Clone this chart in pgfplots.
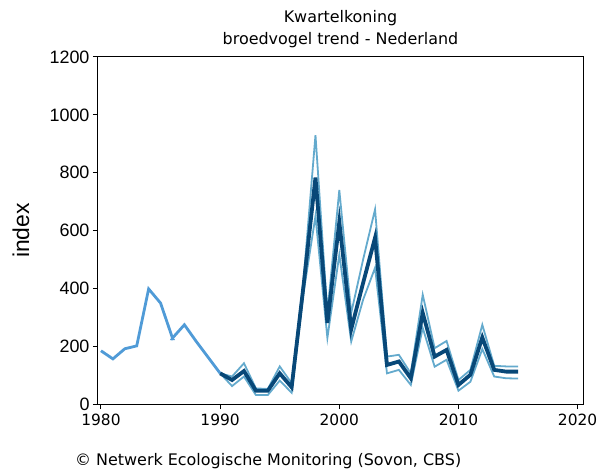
\documentclass[border=0pt]{standalone}
\usepackage{pgfplots}
\pgfplotsset{compat=1.18}
\usepackage{fontspec}
\setmainfont{DejaVu Sans}
\newfontfamily\arialf{Liberation Sans}
\definecolor{early}{RGB}{80,155,215}
\definecolor{dark}{RGB}{8,72,120}
\definecolor{bound}{RGB}{100,170,205}
\begin{document}
\begin{tikzpicture}
\useasboundingbox (-98bp,-69bp) rectangle (500bp,404bp);
\begin{axis}[
  at={(0,0)}, anchor=south west,
  scale only axis, width=485bp, height=347bp,
  xmin=1979.75, xmax=2020.45, ymin=0, ymax=1200,
  xtick={1980,1990,...,2020}, ytick={0,200,...,1200},
  tick align=outside, major tick length=5bp,
  xtick pos=bottom, ytick pos=left,
  axis line style={line width=1bp},
  tick style={line width=1bp, black},
  xticklabel style={font=\fontsize{15.5}{15.5}\selectfont, yshift=-2bp},
  yticklabel style={font=\arialf\fontsize{18}{18}\selectfont},
  /pgf/number format/assume math mode=true,
  /pgf/number format/1000 sep={},
  ylabel={\arialf\fontsize{23}{23}\selectfont index},
  ylabel style={at={(axis description cs:-0.159,0.5)}, anchor=center},
  title={Kwartelkoning\\broedvogel trend - Nederland},
  title style={align=center, font=\fontsize{16}{22}\selectfont, at={(0.5,1)}, anchor=south, yshift=3bp, inner sep=0pt},
]
\addplot[early, line width=2.8bp] coordinates {
(1980,184)(1981,156)(1982,191)(1983,201)(1984,398)(1985,349)(1986,228)(1987,274)(1988,216)(1989,161)(1990,106)};
\addplot[only marks, early, mark=triangle*, mark size=2.5bp] coordinates {(1986,226)};
\addplot[bound, line width=1.8bp] coordinates {
(1990,106)(1991,95)(1992,141)(1993,54)(1994,52)(1995,130)(1996,72)(1997,430)(1998,930)(1999,315)(2000,740)(2001,315)(2002,500)(2003,673)(2004,164)(2005,170)(2006,106)(2007,378)(2008,193)(2009,218)(2010,83)(2011,118)(2012,274)(2013,132)(2014,130)(2015,130)};
\addplot[bound, line width=1.8bp] coordinates {
(1990,106)(1991,62)(1992,95)(1993,31)(1994,31)(1995,81)(1996,39)(1997,385)(1998,650)(1999,228)(2000,517)(2001,216)(2002,361)(2003,471)(2004,106)(2005,118)(2006,66)(2007,263)(2008,129)(2009,153)(2010,46)(2011,77)(2012,190)(2013,95)(2014,89)(2015,88)};
\addplot[dark, line width=3.8bp] coordinates {
(1990,106)(1991,83)(1992,114)(1993,46)(1994,46)(1995,106)(1996,58)(1997,410)(1998,783)(1999,280)(2000,629)(2001,259)(2002,419)(2003,575)(2004,135)(2005,147)(2006,89)(2007,315)(2008,164)(2009,187)(2010,66)(2011,101)(2012,230)(2013,118)(2014,112)(2015,112)};
\end{axis}
\node[anchor=west, inner sep=0pt, font=\fontsize{16}{16}\selectfont] at (-23bp,-57bp) {© Netwerk Ecologische Monitoring (Sovon, CBS)};
\end{tikzpicture}
\end{document}
